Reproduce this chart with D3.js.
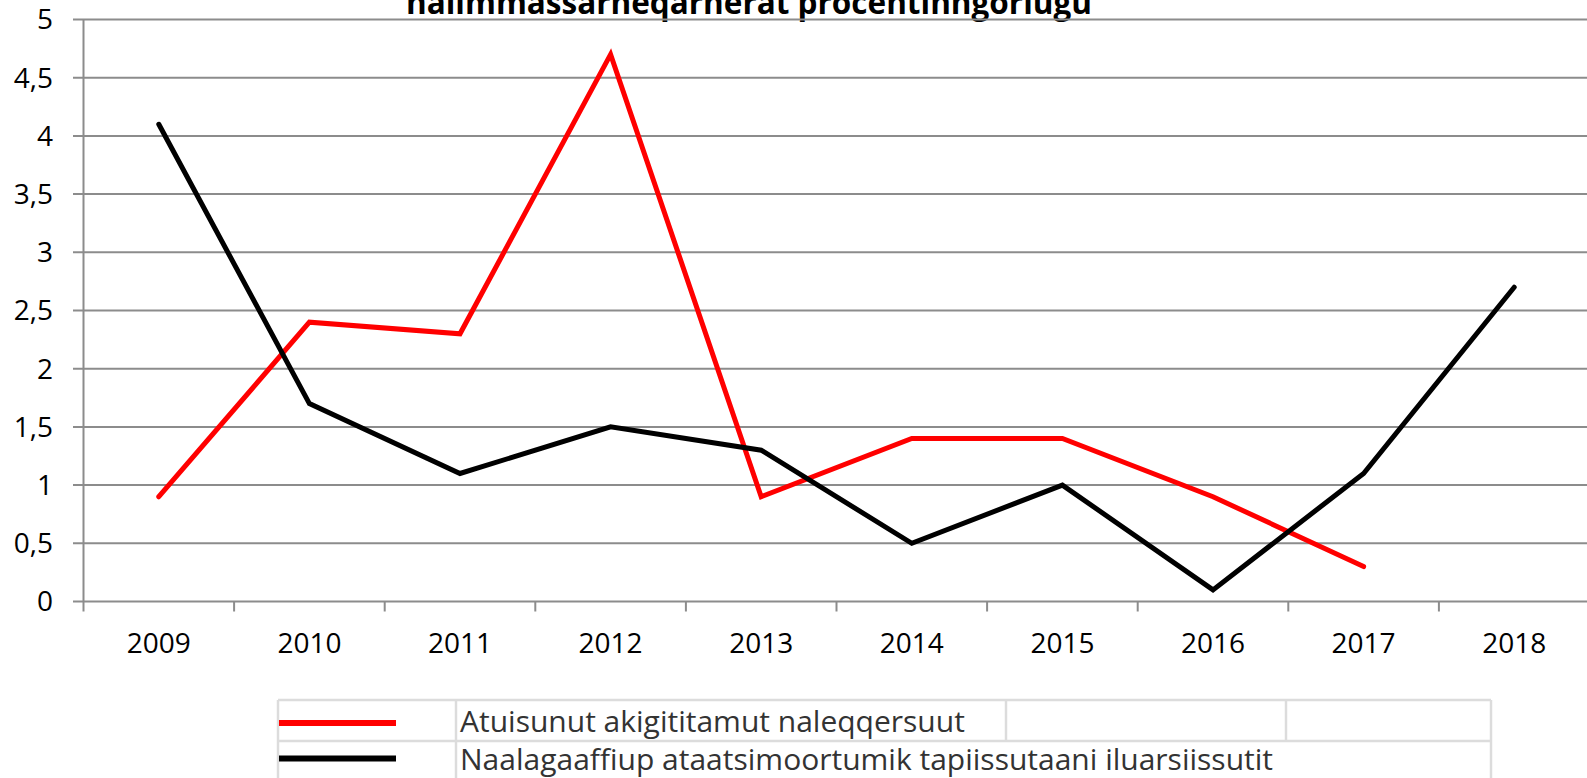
<!DOCTYPE html>
<meta charset="UTF-8">
<head>
    <title>nalimmassarneqarnerat procentinngorlugu</title>
</head>
<style>
    body { margin: 0; background: #fff; }
    svg { display: block; }
    text { font-family: "Open Sans", "DejaVu Sans", sans-serif; }
</style>
<body>
    <div id="chart"></div>
    <script src="https://d3js.org/d3.v7.min.js"></script>
    <script>
        // data
        var years = ["2009", "2010", "2011", "2012", "2013", "2014", "2015", "2016", "2017", "2018"];
        var redValues = [0.9, 2.4, 2.3, 4.7, 0.9, 1.4, 1.4, 0.9, 0.3, null];
        var blackValues = [4.1, 1.7, 1.1, 1.5, 1.3, 0.5, 1.0, 0.1, 1.1, 2.7];
        var yTicks = [0, 0.5, 1, 1.5, 2, 2.5, 3, 3.5, 4, 4.5, 5];
        var seriesNames = ["Atuisunut akigititamut naleqqersuut", "Naalagaaffiup ataatsimoortumik tapiissutaani iluarsiissutit"];
        var seriesColors = ["#ff0000", "#000000"];
        var title = "nalimmassarneqarnerat procentinngorlugu";

        var w = 1587;
        var h = 778;

        var svg = d3.select("#chart").append("svg")
            .attr("width", w)
            .attr("height", h);

        var x = d3.scaleBand().domain(years).range([83.5, 1589.5]);
        var y = d3.scaleLinear().domain([0, 5]).range([601.5, 19.5]);

        // title (its first line sits above the picture, as in the original)
        svg.append("text")
            .attr("x", 749)
            .attr("y", 14)
            .attr("text-anchor", "middle")
            .attr("font-size", "31.5px")
            .attr("font-weight", "bold")
            .attr("fill", "#000")
            .text(title);

        // gridlines
        svg.append("g").selectAll("line")
            .data(yTicks)
            .enter().append("line")
            .attr("x1", 73)
            .attr("x2", w)
            .attr("y1", d => y(d))
            .attr("y2", d => y(d))
            .attr("stroke", "#8c8c8c")
            .attr("stroke-width", 2);

        // y axis line
        svg.append("line")
            .attr("x1", 83.5).attr("x2", 83.5)
            .attr("y1", y(5)).attr("y2", y(0))
            .attr("stroke", "#8c8c8c")
            .attr("stroke-width", 2);

        // y labels
        svg.append("g").selectAll("text")
            .data(yTicks)
            .enter().append("text")
            .attr("x", 53)
            .attr("y", d => y(d))
            .attr("dy", "0.35em")
            .attr("text-anchor", "end")
            .attr("font-size", "28px")
            .attr("fill", "#000")
            .text(d => String(d).replace(".", ","));

        // x axis ticks and labels
        var xAxis = d3.axisBottom(x).tickSize(0).tickPadding(0);
        var gx = svg.append("g")
            .attr("transform", "translate(0," + y(0) + ")")
            .call(xAxis);
        gx.select(".domain").remove();
        gx.selectAll("text")
            .attr("y", 51)
            .attr("dy", 0)
            .attr("font-size", "28px")
            .attr("font-family", "\"Open Sans\", sans-serif")
            .attr("fill", "#000");

        svg.append("g").selectAll("line")
            .data(years)
            .enter().append("line")
            .attr("x1", d => x(d))
            .attr("x2", d => x(d))
            .attr("y1", y(0))
            .attr("y2", y(0) + 10)
            .attr("stroke", "#8c8c8c")
            .attr("stroke-width", 2);

        // lines
        var cx = d => x(d) + x.bandwidth() / 2;
        var line = d3.line()
            .defined(d => d[1] != null)
            .x(d => cx(d[0]))
            .y(d => y(d[1]));

        [redValues, blackValues].forEach(function (vals, i) {
            svg.append("path")
                .datum(years.map((yr, j) => [yr, vals[j]]))
                .attr("d", line)
                .attr("fill", "none")
                .attr("stroke", seriesColors[i])
                .attr("stroke-width", 5)
                .attr("stroke-linejoin", "miter")
                .attr("stroke-linecap", "round");
        });

        // legend table
        var lg = svg.append("g");
        var rowTop = 700;
        var rowH = 41;
        var cols = [278, 456, 1006, 1286, 1491];
        var border = "#dcdcdc";

        [0, 1, 2].forEach(function (r) {
            lg.append("line")
                .attr("x1", cols[0]).attr("x2", cols[4])
                .attr("y1", rowTop + r * rowH).attr("y2", rowTop + r * rowH)
                .attr("stroke", border).attr("stroke-width", 2.5);
        });
        // first row has every column, second row spans the empty ones
        cols.forEach(function (c, i) {
            var y2 = (i === 2 || i === 3) ? rowTop + rowH : rowTop + 2 * rowH;
            lg.append("line")
                .attr("x1", c).attr("x2", c)
                .attr("y1", rowTop).attr("y2", y2)
                .attr("stroke", border).attr("stroke-width", 2.5);
        });

        seriesNames.forEach(function (name, i) {
            var cy = rowTop + 23 + i * 35.5;
            lg.append("line")
                .attr("x1", 279).attr("x2", 396)
                .attr("y1", cy).attr("y2", cy)
                .attr("stroke", seriesColors[i])
                .attr("stroke-width", 6);
            lg.append("text")
                .attr("x", 460)
                .attr("y", rowTop + 32 + i * 38)
                .attr("font-size", "30px")
                .attr("fill", "#333")
                .text(name);
        });
    </script>
</body>
</html>
